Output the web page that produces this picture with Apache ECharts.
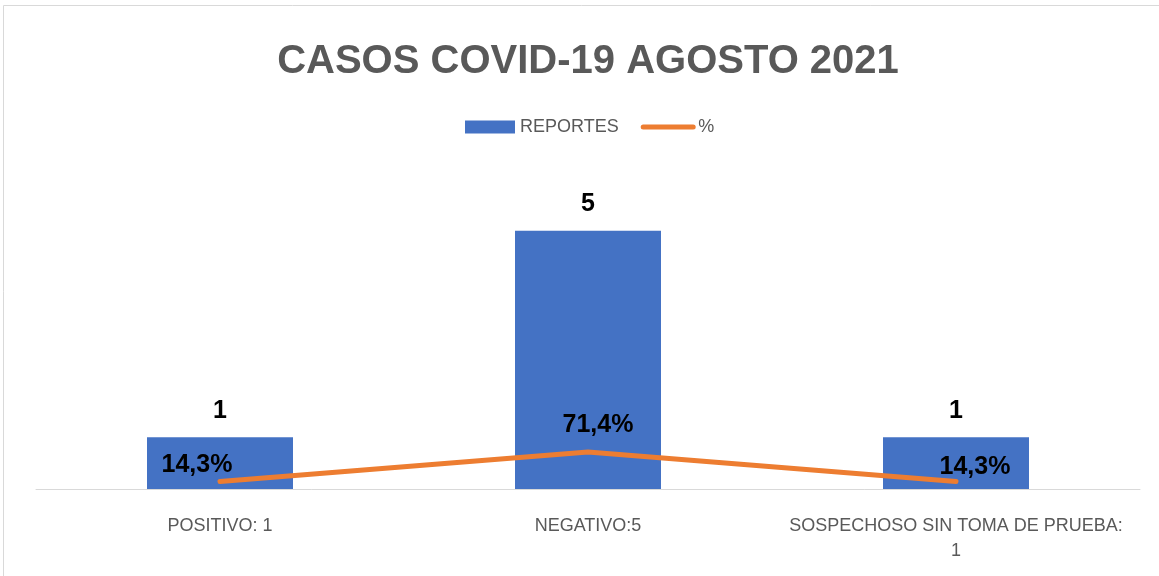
<!DOCTYPE html>
<html>
<head>
<meta charset="utf-8">
<script src="https://cdn.jsdelivr.net/npm/echarts@6/dist/echarts.min.js"></script>
<style>
  html, body { margin: 0; padding: 0; background: #fff; }
  #chart { width: 1159px; height: 576px; }
</style>
</head>
<body>
<div id="chart"></div>
<script>
// datos del gráfico
const categorias = ["POSITIVO: 1", "NEGATIVO:5", "SOSPECHOSO SIN TOMA DE PRUEBA: 1"]
const reportes = [1, 5, 1]
const porcentaje = [0.143, 0.714, 0.143]
const porcentajeTxt = ["14,3%", "71,4%", "14,3%"]

// desplazamiento manual de etiquetas (como en el original)
const offsets = [[-23, -17], [10, -27], [19, -15]]

const chart = echarts.init(document.getElementById("chart"))
const FONT = "'Liberation Sans', Arial, sans-serif"

const option = {
  animation: false,
  textStyle: { fontFamily: FONT },
  graphic: [
    {
      type: "rect",
      shape: { x: 3.5, y: 5.5, width: 1170, height: 600 },
      style: { fill: "none", stroke: "#d9d9d9", lineWidth: 1 },
      silent: true,
    },
  ],
  title: {
    text: "CASOS COVID-19 AGOSTO 2021",
    left: 583,
    textAlign: "center",
    top: 37,
    textStyle: {
      color: "#595959",
      fontSize: 40,
      fontWeight: "bold",
      fontFamily: FONT,
    },
  },
  legend: {
    left: 460,
    top: 113,
    itemWidth: 50,
    itemHeight: 13,
    itemGap: 22,
    textStyle: { color: "#595959", fontSize: 18, fontFamily: FONT },
    data: [
      { name: "REPORTES", icon: "rect" },
      {
        name: "%",
        itemStyle: { opacity: 0 },
        lineStyle: { width: 5, cap: "round" },
      },
    ],
  },
  grid: {
    left: 36,
    right: 19,
    top: 179,
    bottom: 87,
  },
  xAxis: {
    type: "category",
    data: categorias,
    axisLine: { show: true, lineStyle: { color: "#d9d9d9", width: 1 } },
    axisTick: { show: false },
    axisLabel: {
      color: "#595959",
      fontSize: 18,
      lineHeight: 25,
      margin: 25,
      interval: 0,
      formatter: (v) => v.replace("PRUEBA: ", "PRUEBA:\n"),
    },
  },
  yAxis: {
    type: "value",
    min: 0,
    max: 6,
    show: false,
    splitLine: { show: false },
  },
  series: [
    {
      name: "REPORTES",
      type: "bar",
      barWidth: 146,
      itemStyle: { color: "#4472C4" },
      label: {
        show: true,
        position: "top",
        distance: 14,
        color: "#000",
        fontSize: 25,
        fontWeight: "bold",
      },
      data: reportes,
    },
    {
      name: "%",
      type: "line",
      symbol: "circle",
      symbolSize: 0,
      lineStyle: { color: "#ED7D31", width: 5, cap: "round" },
      itemStyle: { color: "#ED7D31" },
      data: porcentaje.map((v, i) => ({
        value: v,
        label: {
          show: true,
          position: "inside",
          offset: offsets[i],
          formatter: () => porcentajeTxt[i],
          color: "#000",
          fontSize: 25,
          fontWeight: "bold",
        },
      })),
    },
  ],
}

chart.setOption(option)
</script>
</body>
</html>
